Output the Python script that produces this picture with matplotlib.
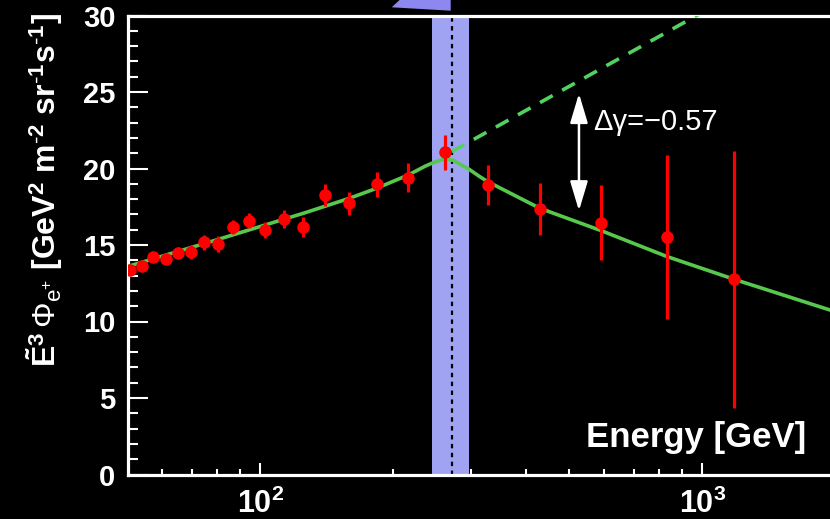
import numpy as np
import matplotlib
matplotlib.use('Agg')
import matplotlib.pyplot as plt
from matplotlib.patches import Polygon
from matplotlib.ticker import FixedLocator, FixedFormatter, MultipleLocator, LogLocator, NullFormatter

plt.rcParams['font.family'] = ['Liberation Sans', 'DejaVu Sans']
plt.rcParams['mathtext.fontset'] = 'custom'
plt.rcParams['mathtext.rm'] = 'Liberation Sans'
plt.rcParams['mathtext.bf'] = 'Liberation Sans:bold'
plt.rcParams['mathtext.it'] = 'Liberation Sans:italic'

# positron flux points (E^3 * flux)
energy = [50.7, 54.1, 57.3, 61.1, 65.2, 69.7, 74.6, 80.4, 86.8, 94.1, 102.6, 113.0,
          124.6, 140.1, 159.0, 183.4, 216.2, 262.1, 327.5, 429.4, 589.1, 833.4, 1179.7]
flux = [13.37, 13.63, 14.24, 14.10, 14.50, 14.56, 15.18, 15.07, 16.16, 16.59, 15.98, 16.68,
        16.16, 18.27, 17.73, 18.97, 19.40, 21.06, 18.92, 17.35, 16.46, 15.54, 12.76]
flux_err = [0.3, 0.3, 0.3, 0.3, 0.35, 0.45, 0.5, 0.5, 0.45, 0.5, 0.55, 0.6,
            0.64, 0.7, 0.74, 0.83, 0.93, 1.15, 1.33, 1.68, 2.43, 5.35, 8.4]

# fitted curve
fit_E = [50.2, 80.4, 126, 159, 183, 216, 236, 248, 258, 266, 274, 283, 295, 314, 327,
         429, 589, 833, 1180, 1945, 2000]
fit_y = [13.6, 15.37, 17.1, 18.05, 18.7, 19.57, 20.15, 20.42, 20.58, 20.62, 20.52, 20.28, 20.0,
         19.46, 19.14, 17.4, 15.95, 14.24, 12.76, 10.75, 10.65]

# extension of the low energy power law
ext_E = [271, 1000]
ext_y = [21.1, 30.2]

E_break = 271
band = (245, 297)
arrow_E = 526
arrow_lo, arrow_hi = 17.24, 24.9

fig = plt.figure(figsize=(8.3, 5.19), dpi=100, facecolor='black')
ax = fig.add_axes([128/830, 1-474.5/519, 1-128/830, (474.5-15.5)/519])
ax.set_facecolor('black')
ax.set_xscale('log')
ax.set_xlim(50.2, 1945)
ax.set_ylim(0, 30)

ax.axvspan(band[0], band[1], color='#a0a3f2', lw=0, zorder=1)
ax.axvline(E_break, color='black', lw=1.6, dashes=(2, 2), zorder=2)
ax.plot(ext_E, ext_y, color='#52d160', lw=2.6, dashes=(4, 3), zorder=3)
ax.plot(fit_E, fit_y, color='#58c84c', lw=2.6, zorder=4)
ax.errorbar(energy, flux, yerr=flux_err, fmt='o', color='#ff0000', ms=8,
            elinewidth=2.3, capsize=0, zorder=5)

ax.annotate('', xy=(arrow_E, arrow_hi), xytext=(arrow_E, arrow_lo),
            arrowprops=dict(arrowstyle='<|-|>,head_length=0.9,head_width=0.27',
                            color='white', lw=1.8, shrinkA=0, shrinkB=0, mutation_scale=20),
            zorder=6)
ax.text(566, 23.06, 'Δγ=−0.57', color='white', fontsize=21, va='center', ha='left')

for s in ['left', 'bottom', 'top']:
    ax.spines[s].set_color('white')
    ax.spines[s].set_linewidth(2.3)
ax.spines['right'].set_visible(False)

ax.yaxis.set_major_locator(MultipleLocator(5))
ax.yaxis.set_minor_locator(MultipleLocator(1))
ax.xaxis.set_major_locator(FixedLocator([100, 1000]))
ax.xaxis.set_major_formatter(FixedFormatter([r'$\mathbf{10^{2}}$', r'$\mathbf{10^{3}}$']))
ax.xaxis.set_minor_locator(LogLocator(base=10, subs=np.arange(2, 10)))
ax.xaxis.set_minor_formatter(NullFormatter())

ax.tick_params(axis='y', which='major', direction='in', length=14.4, width=1.5,
               colors='white', labelsize=21, pad=9)
ax.tick_params(axis='y', which='minor', direction='in', length=7.2, width=1.5, colors='white')
ax.tick_params(axis='x', which='major', direction='in', length=8.6, width=1.5,
               colors='white', labelsize=22, pad=10)
ax.tick_params(axis='x', which='minor', direction='in', length=4.3, width=1.5, colors='white')
for lab in ax.get_yticklabels():
    lab.set_fontweight('bold')

fig.text(806/830, 1-446.7/519, 'Energy [GeV]', color='white', fontsize=25,
         fontweight='bold', ha='right', va='baseline')
fig.text(45/830, 1-13/519,
         r'$\mathbf{\tilde{E}^{3}}\,\Phi_{\mathrm{e}^{+}}$ [GeV$^{\mathbf{2}}$ m$^{\mathbf{\text{-}2}}$ sr$^{\mathbf{\text{-}1}}$s$^{\mathbf{\text{-}1}}$]',
         color='white', fontsize=23, fontweight='bold', rotation=90, ha='center', va='top')

# piece of a purple marker peeking in above the frame
tri = [(391.7, 7.3), (401.7, -2), (450.7, -2), (450.7, 10.7)]
fig.patches.append(Polygon([(x/830, 1-y/519) for x, y in tri], closed=True,
                           transform=fig.transFigure, color='#8d88f0', lw=0))

fig.savefig('out.png', dpi=100, facecolor='black')
